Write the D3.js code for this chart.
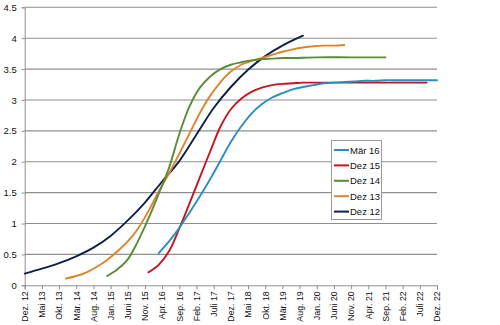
<!DOCTYPE html>
<html><head><meta charset="utf-8">
<script src="https://cdn.jsdelivr.net/npm/d3@7"></script>
<style>
html,body{margin:0;padding:0;background:#fff;}
svg{display:block;}
text{font-family:"Liberation Sans",Arial,sans-serif;fill:#111;}
</style></head>
<body>
<svg id="chart" width="500" height="325"></svg>
<script>
// month index 0 = Dez. 12
const tickLabels = ["Dez. 12","Mai 13","Okt. 13","Mär. 14","Aug. 14","Jan. 15","Juni 15","Nov. 15","Apr. 16","Sep. 16","Feb. 17","Juli 17","Dez. 17","Mai 18","Okt. 18","Mär. 19","Aug. 19","Jan. 20","Juni 20","Nov. 20","Apr. 21","Sep. 21","Feb. 22","Juli 22","Dez. 22"];
const yTicks = [0,0.5,1,1.5,2,2.5,3,3.5,4,4.5];
const seriesNames = ["Mär 16","Dez 15","Dez 14","Dez 13","Dez 12"];
const seriesColors = ["#2a8dc5","#c3161f","#5a8b35","#dd842f","#0f1f4c"];

const monthsMar16 = [39,42,45,48,51,54,57,60,63,66,69,72,75,78,81,84,87,90,93,96,99,102,105,108,111,114,117,120];
const valuesMar16 = [0.52,0.71,0.93,1.18,1.44,1.72,2.02,2.32,2.57,2.78,2.93,3.04,3.11,3.17,3.21,3.24,3.27,3.28,3.29,3.30,3.31,3.31,3.32,3.32,3.32,3.32,3.32,3.32];

const monthsDez15 = [36,39,42,45,48,51,54,57,60,63,66,69,72,75,78,81,85,90,95,100,105,110,117];
const valuesDez15 = [0.21,0.33,0.55,0.92,1.33,1.75,2.17,2.57,2.85,3.02,3.13,3.20,3.24,3.26,3.27,3.28,3.28,3.28,3.28,3.28,3.28,3.28,3.28];

const monthsDez14 = [24,27,30,33,36,39,42,45,48,51,54,57,60,63,66,69,72,75,78,85,95,105];
const valuesDez14 = [0.15,0.26,0.42,0.72,1.08,1.48,1.90,2.45,2.90,3.20,3.38,3.50,3.57,3.61,3.64,3.66,3.67,3.68,3.68,3.69,3.69,3.69];

const monthsDez13 = [12,15,18,21,24,27,30,33,36,39,42,45,48,51,54,57,60,63,66,69,72,75,78,81,84,87,90,93];
const valuesDez13 = [0.11,0.15,0.21,0.30,0.41,0.55,0.71,0.92,1.20,1.52,1.81,2.13,2.46,2.79,3.07,3.29,3.46,3.57,3.63,3.68,3.73,3.78,3.82,3.85,3.87,3.88,3.88,3.89];

const monthsDez12 = [0,5,10,15,20,25,30,35,40,45,50,55,60,65,70,75,81];
const valuesDez12 = [0.19,0.27,0.36,0.47,0.61,0.80,1.05,1.34,1.68,2.01,2.44,2.87,3.21,3.49,3.71,3.88,4.04];

const seriesMonths = [monthsMar16,monthsDez15,monthsDez14,monthsDez13,monthsDez12];
const seriesValues = [valuesMar16,valuesDez15,valuesDez14,valuesDez13,valuesDez12];

const svg = d3.select("#chart");
const mLeft = 24.7, mRight = 437, mTop = 7.3, mBottom = 285.3;
const x = d3.scaleLinear().domain([0,120]).range([mLeft,mRight]);
const y = d3.scaleLinear().domain([0,4.5]).range([mBottom,mTop]);

// gridlines
svg.append("g").selectAll("line").data(yTicks.filter(d=>d>0)).join("line")
  .attr("x1",mLeft).attr("x2",mRight)
  .attr("y1",d=>y(d)).attr("y2",d=>y(d))
  .attr("stroke","#8f8f8f").attr("stroke-width",1.1);

// y axis
const yAxis = d3.axisLeft(y).tickValues(yTicks).tickSize(3).tickPadding(5)
  .tickFormat(d=>String(d));
const gy = svg.append("g").attr("transform",`translate(${mLeft},0)`).call(yAxis);
gy.select(".domain").attr("stroke","#8f8f8f");
gy.selectAll(".tick line").attr("stroke","#8f8f8f");
gy.selectAll("text").attr("font-size","9.5px").attr("fill","#111")
  .style("font-family","'Liberation Sans',Arial,sans-serif");

// x axis
const tickMonths = tickLabels.map((d,i)=>i*5);
const xAxis = d3.axisBottom(x).tickValues(tickMonths).tickSize(4).tickPadding(3)
  .tickFormat((d,i)=>tickLabels[i]);
const gx = svg.append("g").attr("transform",`translate(0,${mBottom})`).call(xAxis);
gx.select(".domain").attr("stroke","#8f8f8f");
gx.selectAll(".tick line").attr("stroke","#8f8f8f");
gx.selectAll("text").attr("font-size","8.8px").attr("fill","#111")
  .style("font-family","'Liberation Sans',Arial,sans-serif")
  .attr("transform","rotate(-90)")
  .attr("text-anchor","end").attr("dx","-6px").attr("dy","0.32em")
  .attr("x",0).attr("y",0);

const line = d3.line().x(d=>x(d[0])).y(d=>y(d[1])).curve(d3.curveCatmullRom.alpha(0.5));
const order = [4,3,2,1,0];
order.forEach(i=>{
  const pts = seriesMonths[i].map((m,j)=>[m,seriesValues[i][j]]);
  svg.append("path").datum(pts).attr("d",line)
    .attr("fill","none").attr("stroke",seriesColors[i]).attr("stroke-width",1.9)
    .attr("stroke-linejoin","round").attr("stroke-linecap","round");
});

// legend
const lg = svg.append("g");
lg.append("rect").attr("x",331.5).attr("y",140.5).attr("width",50).attr("height",79)
  .attr("fill","#fff").attr("stroke","#9a9a9a").attr("stroke-width",1);
seriesNames.forEach((n,i)=>{
  const cy = 150 + i*15.4;
  lg.append("line").attr("x1",334).attr("x2",349).attr("y1",cy).attr("y2",cy)
    .attr("stroke",seriesColors[i]).attr("stroke-width",2);
  lg.append("text").attr("x",350).attr("y",cy+3.5).attr("font-size","9.5px").text(n);
});
</script>
</body></html>
